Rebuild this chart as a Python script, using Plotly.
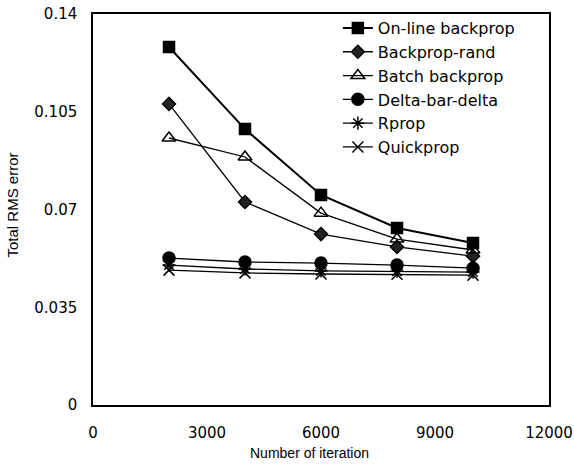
import plotly.graph_objects as go

iterations = [2000, 4000, 6000, 8000, 10000]
online_backprop = [0.1282, 0.0988, 0.0752, 0.0634, 0.0580]
backprop_rand = [0.1078, 0.0727, 0.0612, 0.0566, 0.0533]
batch_backprop = [0.0956, 0.0888, 0.0687, 0.0594, 0.0555]
delta_bar_delta = [0.0526, 0.0512, 0.0508, 0.0501, 0.0490]
rprop = [0.0501, 0.0487, 0.0480, 0.0479, 0.0476]
quickprop = [0.0483, 0.0473, 0.0469, 0.0468, 0.0465]

x_ticks = [0, 3000, 6000, 9000, 12000]
x_tick_labels = ["0", "3000", "6000", "9000", "12000"]
y_ticks = [0, 0.035, 0.07, 0.105, 0.14]
y_tick_labels = ["0", "0.035", "0.07", "0.105", "0.14"]

series = [
    ("On-line backprop", online_backprop, "square", 11, 2.0, "black"),
    ("Backprop-rand", backprop_rand, "diamond", 10, 1.3, "#222"),
    ("Batch backprop", batch_backprop, "triangle-up-open", 12, 1.3, "black"),
    ("Delta-bar-delta", delta_bar_delta, "circle", 12, 1.3, "black"),
    ("Rprop", rprop, "asterisk-open", 11, 1.3, "black"),
    ("Quickprop", quickprop, "x-thin-open", 11, 1.3, "black"),
]

fig = go.Figure()
for name, vals, sym, size, lw, col in series:
    fig.add_trace(go.Scatter(
        x=iterations, y=vals, name=name, mode="lines+markers",
        line=dict(color="black", width=lw),
        marker=dict(symbol=sym, size=size, color=col,
                    line=dict(color="black", width=1.5)),
    ))

arial = "Liberation Sans, Arial, sans-serif"
wide = "DejaVu Sans, Verdana, sans-serif"

fig.update_layout(
    width=574, height=467,
    margin=dict(l=93, r=25, t=13, b=62),
    paper_bgcolor="white", plot_bgcolor="white",
    font=dict(family=arial, color="black", size=13),
    showlegend=True,
    legend=dict(x=0.537, y=1.005, xanchor="left", yanchor="top",
                bgcolor="rgba(0,0,0,0)", borderwidth=0,
                font=dict(size=16, family=wide), tracegroupgap=0, itemwidth=30),
    xaxis=dict(range=[0, 12000], tickvals=x_ticks, ticktext=x_tick_labels,
               showgrid=False, zeroline=False, automargin=False,
               showline=True, linecolor="black", linewidth=1.5, mirror=True,
               ticks="", tickfont=dict(size=15, family=wide), ticklabelstandoff=13,
               ticklabeloverflow="allow"),
    yaxis=dict(range=[0, 0.14], tickvals=y_ticks, ticktext=y_tick_labels,
               showgrid=False, zeroline=False, automargin=False,
               showline=True, linecolor="black", linewidth=1.5, mirror=True,
               ticks="", tickfont=dict(size=15, family=wide), ticklabelstandoff=11,
               ticklabeloverflow="allow"),
    annotations=[
        dict(text="Number of iteration", xref="paper", yref="paper",
             x=(309 - 93) / 456, y=-(453 - 405) / 392, xanchor="center", yanchor="middle",
             showarrow=False, font=dict(size=14)),
        dict(text="Total RMS error", xref="paper", yref="paper",
             x=-(93 - 13) / 456, y=(405 - 205) / 392, xanchor="center", yanchor="middle",
             textangle=-90, showarrow=False, font=dict(size=15)),
    ],
)

# Remove the browser's default 8px page margin so the figure fills the window.
fig.write_html("out.html", config={"displayModeBar": False},
               post_script="document.body.style.margin='0';")
